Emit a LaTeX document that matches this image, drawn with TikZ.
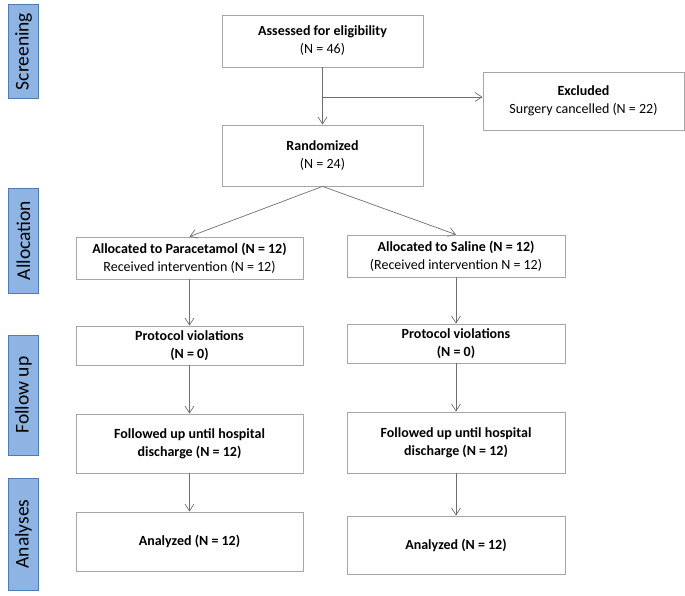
\documentclass[tikz,border=0pt]{standalone}
\usepackage{fontspec}
\setmainfont{Carlito}
\usetikzlibrary{arrows.meta,positioning}
\definecolor{sidefill}{HTML}{8EB4E3}
\definecolor{sidedraw}{HTML}{4F7CB5}
\definecolor{boxdraw}{HTML}{A6A6A6}
\definecolor{linecol}{HTML}{6E6E6E}
\begin{document}
\begin{tikzpicture}[x=1pt,y=-1pt,
  box/.style={draw=boxdraw,line width=0.8pt,fill=white,align=center,inner sep=2pt,
    font=\fontsize{14}{18}\selectfont},
  side/.style={draw=sidedraw,fill=sidefill,line width=0.8pt,rotate=90,
    font=\fontsize{19.5}{22}\selectfont,inner sep=0pt,minimum height=30pt},
  conn/.style={draw=linecol,line width=0.7pt},
  arr/.style={conn,-{Straight Barb[length=7pt,width=9pt,line width=0.7pt]}}]
\useasboundingbox (0,0) rectangle (685,596);
% phase labels
\node[side,minimum width=94pt] (s1) at (23.5,51.5) {Screening};
\node[side,minimum width=105pt] (s2) at (23.5,240.5) {Allocation};
\node[side,minimum width=120pt] (s3) at (23.5,395) {Follow up};
\node[side,minimum width=112pt] (s4) at (23.5,534) {Analyses};
% boxes
\node[box,minimum width=201pt,minimum height=52pt] (assess) at (322.5,41)
  {\textbf{Assessed for eligibility}\\(N = 46)};
\node[box,minimum width=201pt,minimum height=58pt] (excl) at (583.5,101)
  {\textbf{Excluded}\\Surgery cancelled (N = 22)};
\node[box,minimum width=201pt,minimum height=61pt] (rand) at (322.5,155.5)
  {\textbf{Randomized}\\(N = 24)};
\node[box,minimum width=227pt,minimum height=42pt] (allocL) at (189.5,258)
  {\textbf{Allocated to Paracetamol (N = 12)}\\Received intervention (N = 12)};
\node[box,minimum width=218pt,minimum height=42pt] (allocR) at (456,256)
  {\textbf{Allocated to Saline (N = 12)}\\(Received intervention N = 12)};
\node[box,minimum width=227pt,minimum height=39pt] (protL) at (189.5,345.5)
  {\textbf{Protocol violations}\\\textbf{(N = 0)}};
\node[box,minimum width=218pt,minimum height=39pt] (protR) at (456,343.5)
  {\textbf{Protocol violations}\\\textbf{(N = 0)}};
\node[box,minimum width=227pt,minimum height=59pt] (folL) at (189.5,443.5)
  {\textbf{Followed up until hospital}\\\textbf{discharge (N = 12)}};
\node[box,minimum width=218pt,minimum height=61pt] (folR) at (456,442.5)
  {\textbf{Followed up until hospital}\\\textbf{discharge (N = 12)}};
\node[box,minimum width=227pt,minimum height=59pt] (anaL) at (189.5,541.5)
  {\textbf{Analyzed (N = 12)}};
\node[box,minimum width=218pt,minimum height=58pt] (anaR) at (456,545)
  {\textbf{Analyzed (N = 12)}};
% connectors
\coordinate (j) at (323,97);
\draw[arr] (assess.south) -- (rand.north);
\draw[arr] (j) -- (j -| excl.west);
\draw[arr] (rand.south) -- (allocL.north);
\draw[arr] (rand.south) -- (allocR.north);
\draw[arr] (allocL) -- (protL);
\draw[arr] (allocR) -- (protR);
\draw[arr] (protL) -- (folL);
\draw[arr] (protR) -- (folR);
\draw[arr] (folL) -- (anaL);
\draw[arr] (folR) -- (anaR);
\end{tikzpicture}
\end{document}
